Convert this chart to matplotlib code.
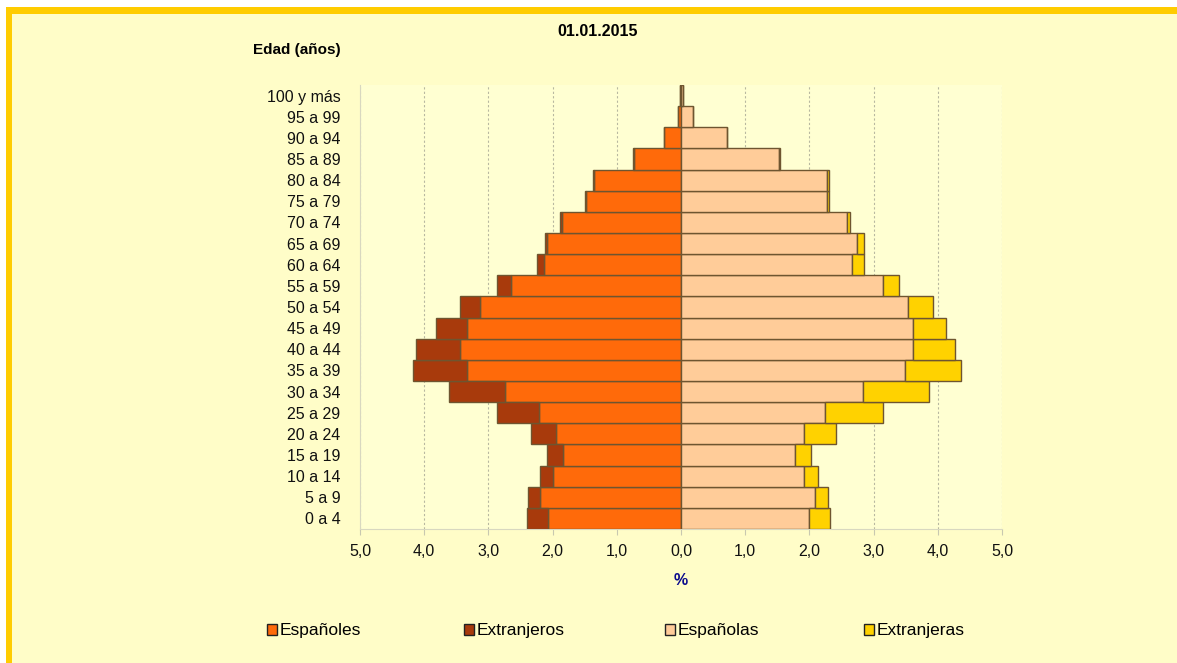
import matplotlib.pyplot as plt
import numpy as np
from matplotlib.patches import Rectangle, Patch
from matplotlib.ticker import FuncFormatter

plt.rcParams["font.family"] = ["Liberation Sans", "DejaVu Sans"]

ages = ["0 a 4", "5 a 9", "10 a 14", "15 a 19", "20 a 24", "25 a 29",
        "30 a 34", "35 a 39", "40 a 44", "45 a 49", "50 a 54", "55 a 59",
        "60 a 64", "65 a 69", "70 a 74", "75 a 79", "80 a 84", "85 a 89",
        "90 a 94", "95 a 99", "100 y más"]

espanoles = [2.07, 2.19, 2.00, 1.84, 1.95, 2.21, 2.74, 3.33, 3.45, 3.33, 3.13,
             2.65, 2.14, 2.08, 1.85, 1.48, 1.35, 0.73, 0.26, 0.05, 0.01]
extranjeros = [0.33, 0.20, 0.20, 0.25, 0.39, 0.65, 0.87, 0.84, 0.67, 0.48, 0.32,
               0.21, 0.11, 0.04, 0.03, 0.02, 0.02, 0.01, 0.00, 0.00, 0.00]
espanolas = [1.99, 2.09, 1.92, 1.78, 1.91, 2.24, 2.83, 3.49, 3.62, 3.62, 3.54,
             3.14, 2.67, 2.74, 2.58, 2.28, 2.28, 1.53, 0.71, 0.19, 0.03]
extranjeras = [0.33, 0.20, 0.21, 0.24, 0.51, 0.91, 1.04, 0.87, 0.65, 0.51, 0.38,
               0.26, 0.18, 0.11, 0.05, 0.02, 0.02, 0.01, 0.01, 0.00, 0.00]

c_esp_m = "#FF6A0A"
c_ext_m = "#A83A0C"
c_esp_f = "#FFCC99"
c_ext_f = "#FFD200"
edge = "#6E5530"
bg = "#FFFDC8"

fig = plt.figure(figsize=(11.77, 6.63), dpi=100)
fig.patch.set_facecolor("white")

# panel with yellow border on top/left
fig.patches.append(Rectangle((6 / 1177, 0), 1 - 6 / 1177, 1 - 7 / 663,
                             transform=fig.transFigure, facecolor="#FFCC00",
                             edgecolor="none", zorder=-10))
fig.patches.append(Rectangle((12 / 1177, 0), 1, 1 - 14 / 663,
                             transform=fig.transFigure, facecolor=bg,
                             edgecolor="none", zorder=-9))

ax = fig.add_axes([360 / 1177, 1 - 529 / 663, 642 / 1177, 444 / 663])
ax.set_facecolor("#FFFFD2")

y = np.arange(len(ages))
esm = np.array(espanoles)
exm = np.array(extranjeros)
esf = np.array(espanolas)
exf = np.array(extranjeras)

kw = dict(height=1.0, edgecolor=edge, linewidth=1.0, zorder=3)
ax.barh(y, -esm, color=c_esp_m, **kw)
ax.barh(y, -exm, left=-esm, color=c_ext_m, **kw)
ax.barh(y, esf, color=c_esp_f, **kw)
ax.barh(y, exf, left=esf, color=c_ext_f, **kw)

ax.set_xlim(-5, 5)
ax.set_ylim(-0.5, len(ages) - 0.5)
ax.set_xticks(np.arange(-5, 6, 1))
ax.xaxis.set_major_formatter(FuncFormatter(lambda v, p: f"{abs(v):.1f}".replace(".", ",")))
ax.set_yticks(y)
ax.set_yticklabels(ages)
ax.tick_params(axis="y", length=0, pad=14, labelsize=11.5, colors="#111111")
ax.tick_params(axis="x", length=4, color="#C8C8B0", pad=7, labelsize=11.5,
               colors="#111111")

ax.grid(axis="x", color="#B8B8A0", linestyle=(0, (2, 2)), linewidth=0.8, zorder=1)
for s in ["top", "right"]:
    ax.spines[s].set_visible(False)
for s in ["left", "bottom"]:
    ax.spines[s].set_color("#D8D8C0")

ax.set_xlabel("%", color="#0A0A8C", fontweight="bold", fontsize=11.5, labelpad=10)

fig.text(598 / 1177, 1 - 32 / 663, "01.01.2015", ha="center", va="center",
         fontweight="bold", fontsize=11.5)
fig.text(253 / 1177, 1 - 50 / 663, "Edad (años)", ha="left", va="center",
         fontweight="bold", fontsize=11)

labels = ["Españoles", "Extranjeros", "Españolas", "Extranjeras"]
colors = [c_esp_m, c_ext_m, c_esp_f, c_ext_f]
leg_x = [264, 461, 662, 861]
for lab, c, lx in zip(labels, colors, leg_x):
    h = Patch(facecolor=c, edgecolor="#222222", linewidth=1.0)
    fig.legend([h], [lab], loc="center left",
               bbox_to_anchor=(lx / 1177, 1 - 631 / 663), frameon=False,
               fontsize=12.5, handlelength=0.55, handleheight=0.55,
               handletextpad=0.15, borderaxespad=0, borderpad=0.2)

fig.savefig("out.png", dpi=100, facecolor=fig.get_facecolor())
